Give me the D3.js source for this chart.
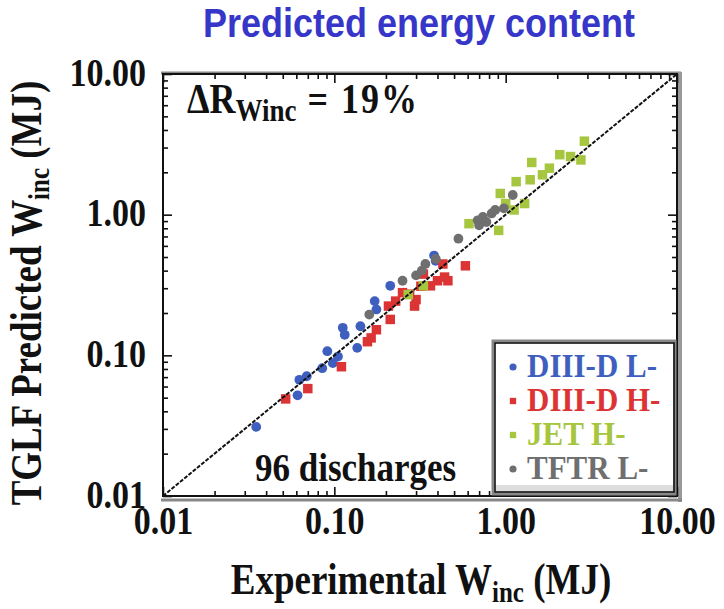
<!DOCTYPE html>
<html>
<head>
<meta charset="utf-8">
<script src="https://cdn.jsdelivr.net/npm/d3@7"></script>
<style>
body { margin: 0; background: #fff; }
text { font-family: "Liberation Serif", "Times New Roman", serif; font-weight: bold; }
</style>
</head>
<body>
<div id="chart"></div>
<script>
// tick labels
var tickVals = [0.01, 0.1, 1, 10];
var tickLabels = ["0.01", "0.10", "1.00", "10.00"];

// series names, colours, marker shapes
var seriesNames = ["DIII-D L-", "DIII-D H-", "JET H-", "TFTR L-"];
var seriesColors = ["#3f5fbf", "#dc3434", "#a5c63e", "#6f6f6f"];
var seriesShapes = ["circle", "square", "square", "circle"];

// [experimental, predicted] in MJ
var diiidL = [[0.035, 0.031], [0.061, 0.052], [0.0625, 0.067], [0.069, 0.071], [0.085, 0.081], [0.091, 0.107],
    [0.098, 0.088], [0.105, 0.098], [0.112, 0.157], [0.115, 0.140], [0.136, 0.113], [0.142, 0.161],
    [0.172, 0.243], [0.176, 0.212], [0.212, 0.312], [0.382, 0.512], [0.39, 0.47]];
var diiidH = [[0.052, 0.049], [0.070, 0.058], [0.110, 0.083], [0.156, 0.125], [0.164, 0.133], [0.176, 0.152],
    [0.207, 0.224], [0.212, 0.180], [0.228, 0.243], [0.250, 0.279], [0.275, 0.272], [0.294, 0.224],
    [0.300, 0.249], [0.320, 0.310], [0.331, 0.378], [0.364, 0.312], [0.400, 0.339], [0.430, 0.446],
    [0.440, 0.360], [0.460, 0.339], [0.582, 0.433]];
var jetH = [[0.27, 0.27], [0.331, 0.312], [0.611, 0.863], [0.91, 0.773], [0.93, 1.415], [1.0, 1.2],
    [1.12, 1.08], [1.151, 1.717], [1.29, 1.20], [1.39, 1.77], [1.42, 2.35], [1.64, 1.92], [1.80, 2.14],
    [2.07, 2.67], [2.39, 2.59], [2.75, 2.45], [2.88, 3.33]];
var tftrL = [[0.160, 0.195], [0.25, 0.339], [0.30, 0.37], [0.324, 0.40], [0.34, 0.446], [0.391, 0.484],
    [0.53, 0.675], [0.687, 0.912], [0.70, 0.84], [0.736, 0.964], [0.772, 0.887], [0.828, 1.02],
    [0.869, 1.08], [0.977, 1.11], [1.10, 1.38]];

var allSeries = [diiidL, diiidH, jetH, tftrL];

var W = 724, H = 609;
var m = { left: 163, top: 74, right: 677, bottom: 496 };
var stretch = 1.17; // the scanned figure's lettering is taller than plain Times

var svg = d3.select("#chart").append("svg").attr("width", W).attr("height", H);

var x = d3.scaleLog().domain([0.01, 10]).range([m.left, m.right]);
var y = d3.scaleLog().domain([0.01, 10]).range([m.bottom, m.top]);

function place(px, py, sy) {
    return "translate(" + px + "," + py + ") scale(1," + (sy || stretch) + ")";
}

// title
svg.append("text")
    .attr("transform", place(419, 37, 1.12))
    .attr("text-anchor", "middle")
    .style("font-family", "'Liberation Sans', Arial, sans-serif")
    .style("font-size", "36px")
    .style("fill", "#3636c8")
    .text("Predicted energy content");

// frame shadow
svg.append("line").attr("x1", m.left - 2).attr("x2", m.right + 4).attr("y1", m.top - 1).attr("y2", m.top - 1)
    .attr("stroke", "#888").attr("stroke-width", 3);
svg.append("line").attr("x1", m.right + 3).attr("x2", m.right + 3).attr("y1", m.top - 2).attr("y2", m.bottom + 6)
    .attr("stroke", "#999").attr("stroke-width", 4);
svg.append("line").attr("x1", m.left - 2).attr("x2", m.right + 5).attr("y1", m.bottom + 4).attr("y2", m.bottom + 4)
    .attr("stroke", "#888").attr("stroke-width", 3);

// minor + major ticks, inward, on all four sides
var minor = [];
[0.01, 0.1, 1].forEach(function (d) {
    for (var k = 2; k <= 9; k++) minor.push(d * k);
});

function ticks(axisFn, scale, vals, size, tr) {
    var g = svg.append("g").attr("transform", tr)
        .call(axisFn(scale).tickValues(vals).tickSize(size).tickFormat(""));
    g.select(".domain").remove();
    g.selectAll("line").attr("stroke", "#111").attr("stroke-width", 1.6);
}
ticks(d3.axisTop, x, minor, 5, "translate(0," + m.bottom + ")");
ticks(d3.axisTop, x, tickVals, 9, "translate(0," + m.bottom + ")");
ticks(d3.axisBottom, x, minor, 5, "translate(0," + m.top + ")");
ticks(d3.axisBottom, x, tickVals, 9, "translate(0," + m.top + ")");
ticks(d3.axisRight, y, minor, 5, "translate(" + m.left + ",0)");
ticks(d3.axisRight, y, tickVals, 9, "translate(" + m.left + ",0)");
ticks(d3.axisLeft, y, minor, 5, "translate(" + m.right + ",0)");
ticks(d3.axisLeft, y, tickVals, 9, "translate(" + m.right + ",0)");

// tick labels
var xl = svg.append("g").attr("transform", "translate(0," + (m.bottom + 38) + ")")
    .call(d3.axisBottom(x).tickValues(tickVals).tickSize(0).tickPadding(0)
        .tickFormat(function (d, i) { return tickLabels[i]; }));
xl.select(".domain").remove();
xl.selectAll("text").attr("y", 0).attr("dy", 0).attr("transform", "scale(1," + stretch + ")")
    .style("font-size", "34px").style("font-family", "'Liberation Serif', serif").style("fill", "#111");

var yl = svg.append("g").attr("transform", "translate(" + (m.left - 17) + ",0)")
    .call(d3.axisLeft(y).tickValues(tickVals).tickSize(0).tickPadding(0)
        .tickFormat(function (d, i) { return tickLabels[i]; }));
yl.select(".domain").remove();
yl.selectAll("text").attr("x", 0).attr("dy", 0).attr("transform", "translate(0,11) scale(1," + stretch + ")")
    .style("font-size", "34px").style("font-family", "'Liberation Serif', serif").style("fill", "#111");

// points
var sym = { circle: d3.symbolCircle, square: d3.symbolSquare };
allSeries.forEach(function (pts, i) {
    svg.append("g").selectAll("path").data(pts).enter().append("path")
        .attr("transform", function (d) { return "translate(" + x(d[0]) + "," + y(d[1]) + ")"; })
        .attr("d", d3.symbol().type(sym[seriesShapes[i]]).size(seriesShapes[i] === "circle" ? 75 : 90))
        .attr("fill", seriesColors[i]);
});

// y = x line
svg.append("line")
    .attr("x1", x(0.01)).attr("y1", y(0.01)).attr("x2", x(10)).attr("y2", y(10))
    .attr("stroke", "#111").attr("stroke-width", 2).attr("stroke-dasharray", "4,1.5");

// inner frame
svg.append("rect").attr("x", m.left).attr("y", m.top).attr("width", m.right - m.left).attr("height", m.bottom - m.top)
    .attr("fill", "none").attr("stroke", "#111").attr("stroke-width", 2);

// annotations
var ann = svg.append("text").attr("transform", place(187, 113)).style("font-size", "36px").style("fill", "#111");
ann.append("tspan").text("\u0394R");
ann.append("tspan").attr("dy", 7).style("font-size", "27px").text("Winc");
ann.append("tspan").attr("dy", -7).style("letter-spacing", "2px").text(" = 19%");

svg.append("text").attr("transform", place(255, 481)).style("font-size", "35px").style("fill", "#111")
    .text("96 discharges");

// legend
var lg = { x: 493, y: 341, w: 182, h: 153 };
svg.append("rect").attr("x", lg.x).attr("y", lg.y).attr("width", lg.w).attr("height", lg.h)
    .attr("fill", "#fff").attr("stroke", "#888").attr("stroke-width", 3);
svg.append("rect").attr("x", lg.x + 2).attr("y", lg.h + lg.y - 9).attr("width", lg.w - 4).attr("height", 7)
    .attr("fill", "#ddd");
svg.append("rect").attr("x", lg.x + 2).attr("y", lg.y + 2).attr("width", lg.w - 3).attr("height", lg.h - 4)
    .attr("fill", "none").attr("stroke", "#111").attr("stroke-width", 1.6);

var item = svg.append("g").selectAll("g").data(seriesNames).enter().append("g")
    .attr("transform", function (d, i) { return "translate(" + (lg.x + 20) + "," + (lg.y + 26 + i * 34) + ")"; });
item.append("path")
    .attr("d", function (d, i) { return d3.symbol().type(sym[seriesShapes[i]]).size(40)(); })
    .attr("fill", function (d, i) { return seriesColors[i]; });
item.append("text").attr("transform", "translate(14,10) scale(1,1.1)").style("font-size", "31px")
    .style("fill", function (d, i) { return seriesColors[i]; })
    .text(function (d) { return d; });

// axis titles
var xt = svg.append("text").attr("transform", place(421, 594)).attr("text-anchor", "middle")
    .style("font-size", "37px").style("fill", "#111");
xt.append("tspan").text("Experimental W");
xt.append("tspan").attr("dy", 7).style("font-size", "25px").text("inc");
xt.append("tspan").attr("dy", -7).text(" (MJ)");

var yt = svg.append("text").attr("transform", "translate(41,293) rotate(-90) scale(1," + stretch + ")")
    .attr("text-anchor", "middle")
    .style("font-size", "37px").style("fill", "#111");
yt.append("tspan").text("TGLF Predicted W");
yt.append("tspan").attr("dy", 7).style("font-size", "25px").text("inc");
yt.append("tspan").attr("dy", -7).text(" (MJ)");
</script>
</body>
</html>
